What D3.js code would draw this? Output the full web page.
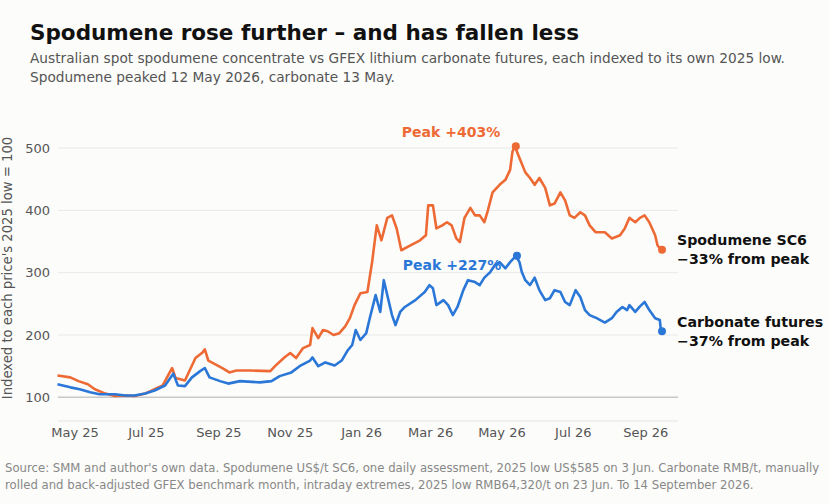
<!DOCTYPE html>
<html><head><meta charset="utf-8">
<script src="https://cdn.jsdelivr.net/npm/d3@7"></script>
<style>body{margin:0;background:#fcfcfa;font-family:"DejaVu Sans",sans-serif}</style>
</head><body><svg id="c" width="830" height="504"></svg>
<script>
// spodumene SC6, indexed to 2025 low = 100
var spodumene = [
 ["2025-04-16",135],["2025-04-27",132],["2025-05-04",126],["2025-05-12",121],["2025-05-18",113],["2025-05-27",106],
 ["2025-06-04",102],["2025-06-13",103],["2025-06-21",102],["2025-06-30",106],["2025-07-08",113],["2025-07-15",119],
 ["2025-07-21",140],["2025-07-23",147],["2025-07-26",131],["2025-08-03",127],["2025-08-12",163],["2025-08-18",172],
 ["2025-08-20",177],["2025-08-23",159],["2025-08-29",153],["2025-09-04",147],["2025-09-10",140],["2025-09-16",143],
 ["2025-09-28",143],["2025-10-15",142],["2025-10-19",150],["2025-10-27",164],["2025-11-01",171],["2025-11-06",163],
 ["2025-11-12",179],["2025-11-18",184],["2025-11-20",211],["2025-11-25",195],["2025-11-29",208],["2025-12-03",206],
 ["2025-12-08",200],["2025-12-13",203],["2025-12-18",214],["2025-12-22",227],["2025-12-26",248],["2025-12-31",267],
 ["2026-01-06",269],["2026-01-10",317],["2026-01-14",376],["2026-01-18",352],["2026-01-23",388],["2026-01-27",392],
 ["2026-01-31",371],["2026-02-04",336],["2026-02-11",343],["2026-02-20",352],["2026-02-25",360],["2026-02-27",408],
 ["2026-03-03",408],["2026-03-06",371],["2026-03-11",376],["2026-03-15",381],["2026-03-19",376],["2026-03-23",355],
 ["2026-03-26",349],["2026-03-30",388],["2026-04-04",404],["2026-04-08",392],["2026-04-12",392],["2026-04-16",381],
 ["2026-04-19",400],["2026-04-23",429],["2026-04-29",441],["2026-05-04",449],["2026-05-08",465],["2026-05-10",494],
 ["2026-05-12",503],["2026-05-16",484],["2026-05-21",461],["2026-05-25",452],["2026-05-29",441],["2026-06-02",452],
 ["2026-06-07",436],["2026-06-11",408],["2026-06-15",411],["2026-06-20",429],["2026-06-24",416],["2026-06-28",392],
 ["2026-07-02",388],["2026-07-07",397],["2026-07-11",392],["2026-07-15",376],["2026-07-20",365],["2026-07-28",365],
 ["2026-08-03",355],["2026-08-10",360],["2026-08-14",371],["2026-08-18",388],["2026-08-23",381],["2026-08-27",388],
 ["2026-08-31",392],["2026-09-04",381],["2026-09-09",360],["2026-09-11",344],["2026-09-14",337]
];
// GFEX lithium carbonate futures, indexed to 2025 low = 100
var carbonate = [
 ["2025-04-16",121],["2025-04-27",116],["2025-05-05",113],["2025-05-14",108],["2025-05-22",105],["2025-06-04",105],
 ["2025-06-13",103],["2025-06-21",103],["2025-06-30",106],["2025-07-08",111],["2025-07-17",119],["2025-07-24",138],
 ["2025-07-28",119],["2025-08-03",118],["2025-08-09",132],["2025-08-16",142],["2025-08-20",147],["2025-08-24",132],
 ["2025-09-02",126],["2025-09-09",122],["2025-09-19",126],["2025-10-06",124],["2025-10-16",126],["2025-10-23",134],
 ["2025-11-02",140],["2025-11-09",150],["2025-11-18",159],["2025-11-20",164],["2025-11-25",150],["2025-12-01",156],
 ["2025-12-09",151],["2025-12-15",159],["2025-12-20",175],["2025-12-24",184],["2025-12-27",208],["2025-12-31",192],
 ["2026-01-05",203],["2026-01-08",227],["2026-01-13",264],["2026-01-17",237],["2026-01-20",288],["2026-01-24",256],
 ["2026-01-27",232],["2026-01-30",216],["2026-02-03",237],["2026-02-07",245],["2026-02-16",256],["2026-02-24",269],
 ["2026-02-28",280],["2026-03-03",275],["2026-03-06",248],["2026-03-12",256],["2026-03-16",248],["2026-03-20",232],
 ["2026-03-24",245],["2026-03-29",272],["2026-04-02",288],["2026-04-08",285],["2026-04-12",280],["2026-04-16",292],
 ["2026-04-21",301],["2026-04-25",312],["2026-04-29",317],["2026-05-04",307],["2026-05-08",317],["2026-05-13",327],
 ["2026-05-16",317],["2026-05-18",301],["2026-05-21",288],["2026-05-25",280],["2026-05-29",292],["2026-06-02",272],
 ["2026-06-07",256],["2026-06-11",259],["2026-06-15",272],["2026-06-20",269],["2026-06-24",253],["2026-06-28",248],
 ["2026-07-03",272],["2026-07-07",261],["2026-07-11",240],["2026-07-15",232],["2026-07-21",227],["2026-07-28",220],
 ["2026-08-03",227],["2026-08-07",237],["2026-08-12",245],["2026-08-16",240],["2026-08-18",248],["2026-08-23",237],
 ["2026-08-27",246],["2026-08-31",253],["2026-09-04",240],["2026-09-09",227],["2026-09-13",224],["2026-09-14",206]
];
var yTicks = [100, 200, 300, 400, 500];
var xTicks = ["2025-05-01","2025-07-01","2025-09-01","2025-11-01","2026-01-01","2026-03-01","2026-05-01","2026-07-01","2026-09-01"];

var ORANGE = "#ee6a35", BLUE = "#2a77d8";
var parse = d3.utcParse("%Y-%m-%d");
var svg = d3.select("#c");

var x = d3.scaleUtc().domain([parse("2025-05-01"), parse("2026-09-14")]).range([75, 661]);
var y = d3.scaleLinear().domain([62, 529]).range([421, 130]);

svg.append("text").attr("x", 30).attr("y", 40).attr("font-size", 21.5).attr("font-weight", "bold")
	.attr("fill", "#111").text("Spodumene rose further – and has fallen less");
svg.append("text").attr("x", 30).attr("y", 63).attr("font-size", 13.7).attr("fill", "#555")
	.text("Australian spot spodumene concentrate vs GFEX lithium carbonate futures, each indexed to its own 2025 low.");
svg.append("text").attr("x", 30).attr("y", 82).attr("font-size", 13.7).attr("fill", "#555")
	.text("Spodumene peaked 12 May 2026, carbonate 13 May.");

// grid
svg.selectAll(".grid").data(yTicks).enter().append("line")
	.attr("x1", 58).attr("x2", 678).attr("y1", d => y(d)).attr("y2", d => y(d))
	.attr("stroke", d => d === 100 ? "#c8c8c8" : "#e8e8e8").attr("stroke-width", d => d === 100 ? 1.5 : 1);
svg.append("line").attr("x1", 58).attr("x2", 678).attr("y1", 421).attr("y2", 421).attr("stroke", "#e4e4e4");

svg.selectAll(".yt").data(yTicks).enter().append("text")
	.attr("x", 50).attr("y", d => y(d) + 4.5).attr("text-anchor", "end")
	.attr("font-size", 13).attr("fill", "#555").text(d => d);
svg.selectAll(".xt").data(xTicks).enter().append("text")
	.attr("x", d => x(parse(d))).attr("y", 437).attr("text-anchor", "middle")
	.attr("font-size", 13).attr("fill", "#555").text(d => d3.utcFormat("%b %y")(parse(d)));
svg.append("text").attr("transform", "translate(12,268) rotate(-90)").attr("text-anchor", "middle")
	.attr("font-size", 13.2).attr("fill", "#555").text("Indexed to each price's 2025 low = 100");

var line = d3.line().x(d => x(parse(d[0]))).y(d => y(d[1])).curve(d3.curveLinear);
[[spodumene, ORANGE], [carbonate, BLUE]].forEach(function(s){
	svg.append("path").datum(s[0]).attr("d", line).attr("fill", "none")
		.attr("stroke", s[1]).attr("stroke-width", 2.6).attr("stroke-linejoin", "round");
	var pk = s[0].reduce((a, b) => b[1] > a[1] ? b : a);
	var last = s[0][s[0].length - 1];
	[pk, last].forEach(function(p){
		svg.append("circle").attr("cx", x(parse(p[0])) + 1).attr("cy", y(p[1])).attr("r", 4).attr("fill", s[1]);
	});
});

svg.append("text").attr("x", 451).attr("y", 137).attr("text-anchor", "middle").attr("font-size", 14)
	.attr("font-weight", "bold").attr("fill", ORANGE).text("Peak +403%");
svg.append("text").attr("x", 452).attr("y", 270).attr("text-anchor", "middle").attr("font-size", 14)
	.attr("font-weight", "bold").attr("fill", BLUE).text("Peak +227%");

var right = [["Spodumene SC6", "−33% from peak", 245], ["Carbonate futures", "−37% from peak", 327]];
right.forEach(function(r){
	var t = svg.append("text").attr("x", 677).attr("y", r[2]).attr("font-size", 14.2).attr("font-weight", "bold").attr("fill", "#111");
	t.append("tspan").attr("x", 677).text(r[0]);
	t.append("tspan").attr("x", 677).attr("dy", 19).text(r[1]);
});

svg.append("text").attr("x", 5).attr("y", 472).attr("font-size", 11.7).attr("fill", "#888")
	.text("Source: SMM and author's own data. Spodumene US$/t SC6, one daily assessment, 2025 low US$585 on 3 Jun. Carbonate RMB/t, manually");
svg.append("text").attr("x", 5).attr("y", 489).attr("font-size", 11.7).attr("fill", "#888")
	.text("rolled and back-adjusted GFEX benchmark month, intraday extremes, 2025 low RMB64,320/t on 23 Jun. To 14 September 2026.");
</script></body></html>
